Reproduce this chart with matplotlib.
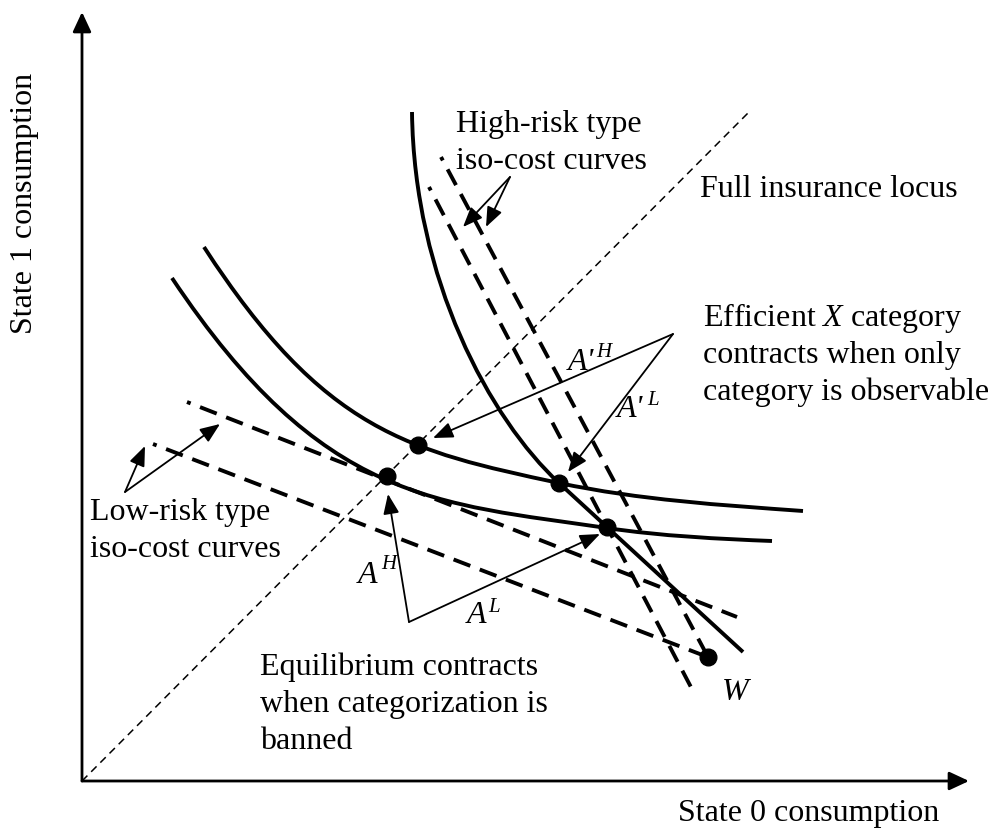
import matplotlib
matplotlib.use("Agg")
import matplotlib.pyplot as plt
from matplotlib.path import Path
from matplotlib.patches import PathPatch

plt.rcParams['font.family'] = ['Liberation Serif', 'DejaVu Serif']
plt.rcParams['mathtext.fontset'] = 'custom'
plt.rcParams['mathtext.rm'] = 'Liberation Serif'
plt.rcParams['mathtext.it'] = 'Liberation Serif:italic'

# everything is in picture coordinates (pixels, y going down)
origin = (82, 782)
y_axis_tip = (82, 13)
x_axis_tip = (969, 782)

# full insurance locus (45 degree line)
diag_x = [82, 749]
diag_y = [782, 113]

# curves as cubic bezier pieces: start, ctrl, ctrl, end (+ more pieces)
# high-risk indifference curve, straight below A'L down to its end
hi_curve_pts = [(412, 113), (414, 280), (490, 420), (559, 484), (743, 653)]
hi_curve_codes = [Path.MOVETO, Path.CURVE4, Path.CURVE4, Path.CURVE4, Path.LINETO]

# low-risk indifference curves
lo_upper_pts = [(204, 248), (324, 433), (409, 452), (559, 484),
                (640, 501), (720, 506), (803, 512)]
lo_lower_pts = [(172, 279), (322, 504), (437, 504), (607, 529),
                (660, 537), (720, 540), (772, 542)]
lo_codes = [Path.MOVETO] + [Path.CURVE4] * 6

# iso-cost lines (start, end)
hi_iso_outer_x = [429, 693]
hi_iso_outer_y = [188, 692]
hi_iso_inner_x = [441, 708]
hi_iso_inner_y = [158, 658]
lo_iso_upper_x = [187, 737]
lo_iso_upper_y = [403, 618]
lo_iso_lower_x = [153, 705]
lo_iso_lower_y = [445, 657]

# contract points: A'H, AH, A'L, AL, W
pts_x = [418, 387, 559, 607, 708]
pts_y = [446, 477, 484, 528, 658]

# arrows: (start, [tips])
arrow_groups = [
    ((510, 178), [(463, 228), (486, 228)]),
    ((125, 493), [(145, 447), (220, 425)]),
    ((673, 335), [(433, 439), (568, 473)]),
    ((409, 623), [(388, 495), (600, 535)]),
]

# text blocks: (x, first baseline, lines)
text_blocks = [
    (456, 132, ["High-risk type", "iso-cost curves"]),
    (700, 197, ["Full insurance locus"]),
    (703, 326, ["Efficient $X$ category", "contracts when only", "category is observable"]),
    (90, 520, ["Low-risk type", "iso-cost curves"]),
    (260, 675, ["Equilibrium contracts", "when categorization is", "banned"]),
    (678, 821, ["State 0 consumption"]),
]
line_gap = 37

# point labels: (x, baseline, main, superscript, sup x, sup baseline)
point_labels = [
    (358, 583, "A", "H", 381, 569),
    (467, 623, "A", "L", 488, 612),
    (568, 370, "A'", "H", 596, 357),
    (617, 417, "A'", "L", 647, 405),
]

fs = 23
fig = plt.figure(figsize=(9.93, 8.29), dpi=100)
ax = fig.add_axes([0, 0, 1, 1])
ax.set_xlim(0, 993)
ax.set_ylim(829, 0)
ax.axis('off')

# axes with arrow heads
axis_style = dict(arrowstyle='-|>,head_length=0.6,head_width=0.28', lw=2.0,
                  color='black', mutation_scale=20, shrinkA=0, shrinkB=0)
ax.annotate('', xy=y_axis_tip, xytext=origin, arrowprops=axis_style)
ax.annotate('', xy=x_axis_tip, xytext=origin, arrowprops=axis_style)

ax.plot(diag_x, diag_y, color='black', lw=1.1, linestyle=(0, (5, 3.5)))

for pts, codes in [(hi_curve_pts, hi_curve_codes), (lo_upper_pts, lo_codes),
                   (lo_lower_pts, lo_codes)]:
    patch = PathPatch(Path(pts, codes), facecolor='none', edgecolor='black',
                      lw=2.8, capstyle='butt')
    ax.add_patch(patch)

dash = (3.6, (4.6, 2.6))
for xs, ys in [(hi_iso_outer_x, hi_iso_outer_y), (hi_iso_inner_x, hi_iso_inner_y),
               (lo_iso_upper_x, lo_iso_upper_y), (lo_iso_lower_x, lo_iso_lower_y)]:
    ax.plot(xs, ys, color='black', lw=2.8, linestyle=dash, dash_capstyle='butt')

ax.plot(pts_x, pts_y, 'o', color='black', markersize=12, zorder=5)

arrow_style = dict(arrowstyle='-|>,head_length=0.55,head_width=0.22', lw=1.3,
                   color='black', mutation_scale=22, shrinkA=0, shrinkB=0)
for start, tips in arrow_groups:
    for tip in tips:
        ax.annotate('', xy=tip, xytext=start, arrowprops=arrow_style)

for x, y0, lines in text_blocks:
    for i, line in enumerate(lines):
        ax.text(x, y0 + i * line_gap, line, fontsize=fs, ha='left', va='baseline')

for x, y, main, sup, sx, sy in point_labels:
    ax.text(x, y, main, fontsize=fs, style='italic', ha='left', va='baseline')
    ax.text(sx, sy, sup, fontsize=15, style='italic', ha='left', va='baseline')

ax.text(722, 700, "W", fontsize=fs, style='italic', ha='left', va='baseline')

ax.text(25, 203, "State 1 consumption", fontsize=fs, rotation=90,
        ha='center', va='center')

fig.savefig("out.png", dpi=100)
